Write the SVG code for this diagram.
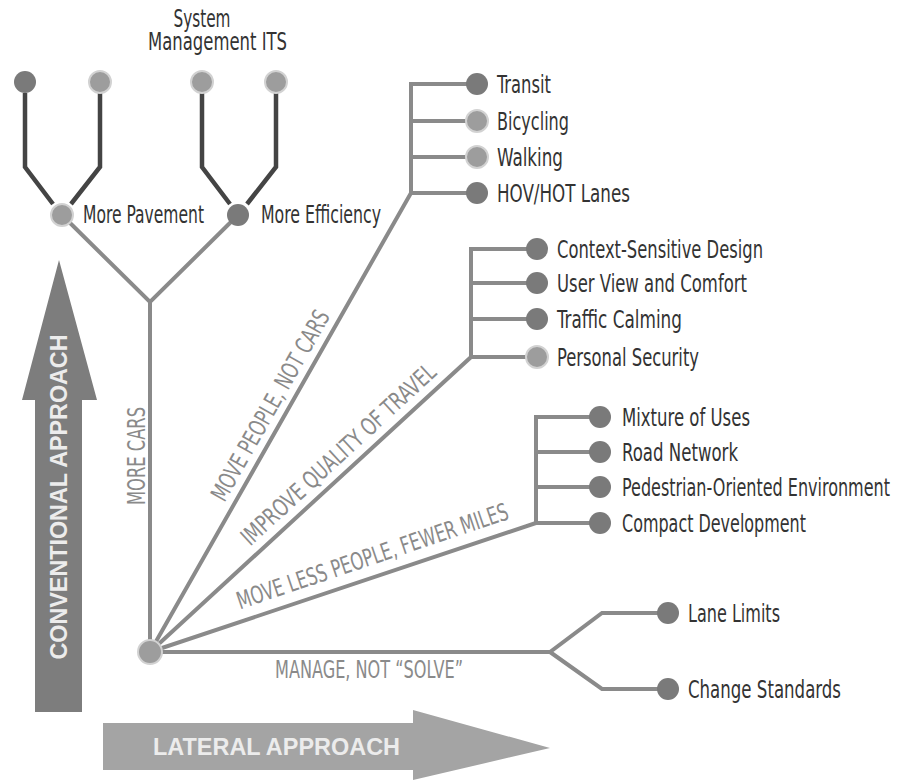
<svg xmlns="http://www.w3.org/2000/svg" width="914" height="783" viewBox="0 0 914 783">
<style>
.bg{fill:#ffffff}
.ln{fill:none;stroke:#8a8a8a;stroke-width:4;stroke-linejoin:miter}
.dk{fill:none;stroke:#444444;stroke-width:4.5;stroke-linejoin:miter}
.cd{fill:#7a7a7a}
.cl{fill:#9d9d9d;stroke:#d2d2d2;stroke-width:2}
.t{font-family:"Liberation Sans Narrow","DejaVu Sans Condensed","Liberation Sans",sans-serif;font-size:24px;fill:#333333}
.g{font-family:"Liberation Sans Narrow","DejaVu Sans Condensed","Liberation Sans",sans-serif;font-size:24px;fill:#8a8a8a}
.a{font-family:"Liberation Sans","DejaVu Sans",sans-serif;font-size:24px;font-weight:bold;fill:#ececec}
</style>
<rect class="bg" x="0" y="0" width="914" height="783"/>
<g id="arrows">
  <g id="conventional-arrow">
    <polygon points="35,712 82,712 82,400 97,400 59,260 22,400 35,400" fill="#7d7d7d"/>
    <text class="a" transform="translate(67,497) rotate(-90)" text-anchor="middle" textLength="325" lengthAdjust="spacingAndGlyphs">CONVENTIONAL APPROACH</text>
  </g>
  <g id="lateral-arrow">
    <polygon points="103,723 413,723 413,710 550,748 413,780 413,770 103,770" fill="#a4a4a4"/>
    <text class="a" x="276.5" y="755" text-anchor="middle" textLength="247" lengthAdjust="spacingAndGlyphs">LATERAL APPROACH</text>
  </g>
</g>
<g id="connectors">
  <path class="dk" d="M25,93 V167 L53,204"/>
  <path class="dk" d="M100,93 V167 L71,204"/>
  <path class="dk" d="M202,93 V167 L230,204"/>
  <path class="dk" d="M276,93 V167 L247,204"/>
  <path class="ln" d="M62,215 L150,302 L238,215"/>
  <path class="ln" d="M150,302 V652"/>
  <path class="ln" d="M150,652 L411,193 V84 H470 M411,121 H470 M411,157 H470 M411,193 H470"/>
  <path class="ln" d="M150,652 L471,357 V249 H530 M471,283 H530 M471,319 H530 M471,357 H530"/>
  <path class="ln" d="M150,652 L536,523 V417 H593 M536,452 H593 M536,487 H593 M536,523 H593"/>
  <path class="ln" d="M150,652 H550 L602,613 H660 M550,652 L602,689 H660"/>
</g>
<g id="edge-labels">
  <text class="g" transform="translate(145,456) rotate(-90)" text-anchor="middle" textLength="98" lengthAdjust="spacingAndGlyphs">MORE CARS</text>
  <text class="g" transform="translate(277.5,409.5) rotate(-60.4)" text-anchor="middle" textLength="215" lengthAdjust="spacingAndGlyphs">MOVE PEOPLE, NOT CARS</text>
  <text class="g" transform="translate(344,460.5) rotate(-42.6)" text-anchor="middle" textLength="255" lengthAdjust="spacingAndGlyphs">IMPROVE QUALITY OF TRAVEL</text>
  <text class="g" transform="translate(375,564) rotate(-18.57)" text-anchor="middle" textLength="285" lengthAdjust="spacingAndGlyphs">MOVE LESS PEOPLE, FEWER MILES</text>
  <text class="g" x="275" y="678" textLength="188" lengthAdjust="spacingAndGlyphs">MANAGE, NOT “SOLVE”</text>
</g>
<g id="node-root"><circle class="cl" cx="150" cy="652" r="12"/></g>
<g id="node-top-1"><circle class="cd" cx="25" cy="82" r="11"/></g>
<g id="node-top-2"><circle class="cl" cx="100" cy="82" r="11"/></g>
<g id="node-system-management"><circle class="cl" cx="202" cy="82" r="11"/>
  <text class="t" x="202" y="27" text-anchor="middle" textLength="57" lengthAdjust="spacingAndGlyphs">System</text>
  <text class="t" x="148" y="50" textLength="139" lengthAdjust="spacingAndGlyphs">Management ITS</text>
</g>
<g id="node-its"><circle class="cl" cx="276" cy="82" r="11"/></g>
<g id="node-more-pavement"><circle class="cl" cx="62" cy="215" r="11"/>
  <text class="t" x="83" y="223" textLength="121" lengthAdjust="spacingAndGlyphs">More Pavement</text></g>
<g id="node-more-efficiency"><circle class="cd" cx="238" cy="215" r="11"/>
  <text class="t" x="261" y="223" textLength="120" lengthAdjust="spacingAndGlyphs">More Efficiency</text></g>
<g id="node-transit"><circle class="cd" cx="477" cy="84" r="11"/>
  <text class="t" x="497" y="93" textLength="54" lengthAdjust="spacingAndGlyphs">Transit</text></g>
<g id="node-bicycling"><circle class="cl" cx="477" cy="121" r="11"/>
  <text class="t" x="497" y="130" textLength="72" lengthAdjust="spacingAndGlyphs">Bicycling</text></g>
<g id="node-walking"><circle class="cl" cx="477" cy="157" r="11"/>
  <text class="t" x="497" y="166" textLength="66" lengthAdjust="spacingAndGlyphs">Walking</text></g>
<g id="node-hov"><circle class="cd" cx="477" cy="193" r="11"/>
  <text class="t" x="497" y="202" textLength="133" lengthAdjust="spacingAndGlyphs">HOV/HOT Lanes</text></g>
<g id="node-context"><circle class="cd" cx="537" cy="249" r="11"/>
  <text class="t" x="557" y="258" textLength="206" lengthAdjust="spacingAndGlyphs">Context-Sensitive Design</text></g>
<g id="node-user-view"><circle class="cd" cx="537" cy="283" r="11"/>
  <text class="t" x="557" y="292" textLength="190" lengthAdjust="spacingAndGlyphs">User View and Comfort</text></g>
<g id="node-traffic-calming"><circle class="cd" cx="537" cy="319" r="11"/>
  <text class="t" x="557" y="328" textLength="125" lengthAdjust="spacingAndGlyphs">Traffic Calming</text></g>
<g id="node-personal-security"><circle class="cl" cx="537" cy="357" r="11"/>
  <text class="t" x="557" y="366" textLength="142" lengthAdjust="spacingAndGlyphs">Personal Security</text></g>
<g id="node-mixture"><circle class="cd" cx="600" cy="417" r="11"/>
  <text class="t" x="622" y="426" textLength="128" lengthAdjust="spacingAndGlyphs">Mixture of Uses</text></g>
<g id="node-road-network"><circle class="cd" cx="600" cy="452" r="11"/>
  <text class="t" x="622" y="461" textLength="116" lengthAdjust="spacingAndGlyphs">Road Network</text></g>
<g id="node-pedestrian"><circle class="cd" cx="600" cy="487" r="11"/>
  <text class="t" x="622" y="496" textLength="268" lengthAdjust="spacingAndGlyphs">Pedestrian-Oriented Environment</text></g>
<g id="node-compact"><circle class="cd" cx="600" cy="523" r="11"/>
  <text class="t" x="622" y="532" textLength="184" lengthAdjust="spacingAndGlyphs">Compact Development</text></g>
<g id="node-lane-limits"><circle class="cd" cx="668" cy="613" r="11"/>
  <text class="t" x="688" y="622" textLength="92" lengthAdjust="spacingAndGlyphs">Lane Limits</text></g>
<g id="node-change-standards"><circle class="cd" cx="668" cy="689" r="11"/>
  <text class="t" x="688" y="698" textLength="153" lengthAdjust="spacingAndGlyphs">Change Standards</text></g>
</svg>
